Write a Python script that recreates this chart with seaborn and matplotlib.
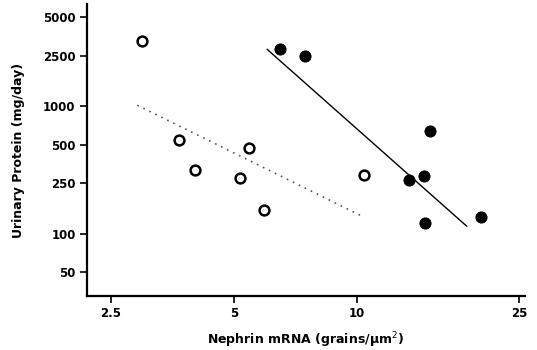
import numpy as np
import pandas as pd
import matplotlib
matplotlib.use("Agg")
import matplotlib.pyplot as plt
from matplotlib.ticker import FixedLocator, NullLocator
import seaborn as sns

### Values
open_x = [2.97, 3.66, 4.02, 5.18, 5.43, 5.94, 10.4]
open_y = [3250, 545, 314, 273, 467, 153, 290]
filled_x = [6.5, 7.48, 13.4, 14.6, 15.07, 14.66, 20.1]
filled_y = [2850, 2476, 265, 285, 640, 121, 135]

## regression lines (end points)
open_fit_x = [2.9, 10.25]
open_fit_y = [1020, 138]
filled_fit_x = [6.03, 18.6]
filled_fit_y = [2810, 114]

x_ticks = [2.5, 5, 10, 25]
y_ticks = [50, 100, 250, 500, 1000, 2500, 5000]

sns.set_style("ticks")
plt.rcParams['font.family'] = ['DejaVu Sans']
plt.rcParams['text.color'] = 'black'
plt.rcParams['axes.labelcolor'] = 'black'
plt.rcParams['xtick.color'] = 'black'
plt.rcParams['ytick.color'] = 'black'

fig = plt.figure(figsize=(5.37, 3.5), dpi=100)
ax = fig.add_axes([0.1615, 0.154, 0.8165, 0.835])

open_df = pd.DataFrame({'x': open_x, 'y': open_y})
filled_df = pd.DataFrame({'x': filled_x, 'y': filled_y})

sns.lineplot(x=open_fit_x, y=open_fit_y, ax=ax, color='#555555',
             linestyle=(0, (1, 3)), linewidth=1.2)
sns.lineplot(x=filled_fit_x, y=filled_fit_y, ax=ax, color='black',
             linewidth=1.0)
sns.scatterplot(data=open_df, x='x', y='y', ax=ax, s=50, facecolor='white',
                edgecolor='black', linewidth=1.8, zorder=3)
sns.scatterplot(data=filled_df, x='x', y='y', ax=ax, s=65, color='black',
                edgecolor='black', zorder=3)

ax.set_xscale('log')
ax.set_yscale('log')
ax.set_xlim(2.18, 25.85)
ax.set_ylim(32.2, 6400)
ax.xaxis.set_major_locator(FixedLocator(x_ticks))
ax.yaxis.set_major_locator(FixedLocator(y_ticks))
ax.xaxis.set_minor_locator(NullLocator())
ax.yaxis.set_minor_locator(NullLocator())
ax.set_xticklabels([f'{t:g}' for t in x_ticks], fontweight='bold', fontsize=8.5)
ax.set_yticklabels([str(t) for t in y_ticks], fontweight='bold', fontsize=8.5)

ax.set_xlabel('Nephrin mRNA (grains/µm$^2$)', fontsize=9, fontweight='bold', labelpad=7)
ax.set_ylabel('Urinary Protein (mg/day)', fontsize=9, fontweight='bold', labelpad=13)

sns.despine(ax=ax)
for sp in ['left', 'bottom']:
    ax.spines[sp].set_linewidth(1.6)
    ax.spines[sp].set_color('black')
ax.tick_params(axis='both', length=5, width=1.2, color='black', labelcolor='black', pad=3)

fig.savefig('out.png', dpi=100)
